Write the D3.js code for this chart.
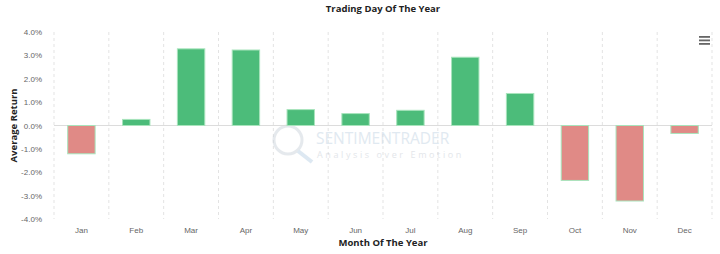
<!DOCTYPE html>
<html lang="en">
<head>
<meta charset="utf-8">
<title>Trading Day Of The Year</title>
<script src="https://cdn.jsdelivr.net/npm/d3@7"></script>
<style>
  body, html { margin:0; padding:0; background:#fff; }
  svg { display:block; font-family:"Open Sans", sans-serif; }
  .tick text { fill:#666; font-size:8px; }
</style>
</head>
<body>
<div id="chart"></div>
<script>
var months = ['Jan','Feb','Mar','Apr','May','Jun','Jul','Aug','Sep','Oct','Nov','Dec'];
var avgReturn = [-1.21, 0.26, 3.28, 3.23, 0.68, 0.51, 0.65, 2.92, 1.37, -2.35, -3.23, -0.34];
var yTicks = [-4, -3, -2, -1, 0, 1, 2, 3, 4];

var W = 720, H = 254;
var m = { left: 54, right: 8, top: 32, bottom: 35 };

var svg = d3.select('#chart').append('svg').attr('width', W).attr('height', H);

var x = d3.scaleBand().domain(months).range([m.left, W - m.right]).paddingInner(0.5).paddingOuter(0.25);
var y = d3.scaleLinear().domain([-4, 4]).range([H - m.bottom, m.top]);

// dashed vertical grid at category boundaries
var step = x.step();
var bounds = d3.range(months.length + 1).map(function(i){ return m.left + i * step; });
svg.append('g').selectAll('line').data(bounds).enter().append('line')
  .attr('x1', function(d){ return d; }).attr('x2', function(d){ return d; })
  .attr('y1', y(4)).attr('y2', y(-4))
  .attr('stroke', '#e3e3e3').attr('stroke-dasharray', '3,3');

// watermark
var wm = svg.append('g').attr('opacity', 0.5);
wm.append('circle').attr('cx', 288).attr('cy', 140).attr('r', 14)
  .attr('fill', 'none').attr('stroke', '#cdd5dd').attr('stroke-width', 3);
wm.append('line').attr('x1', 298).attr('y1', 151).attr('x2', 312).attr('y2', 162)
  .attr('stroke', '#bcd3e6').attr('stroke-width', 4);
wm.append('text').attr('x', 316).attr('y', 144).attr('font-size', 15.5).attr('fill', '#c3d4e4')
  .text('SENTIMENTRADER');
wm.append('text').attr('x', 317).attr('y', 158).attr('font-size', 9).attr('fill', '#c8ced6')
  .attr('letter-spacing', 2.6).text('Analysis over Emotion');

// zero line
svg.append('line').attr('x1', m.left).attr('x2', W - m.right)
  .attr('y1', y(0)).attr('y2', y(0)).attr('stroke', '#dcdcdc');

// bars
svg.append('g').selectAll('rect').data(avgReturn).enter().append('rect')
  .attr('x', function(d, i){ return x(months[i]); })
  .attr('width', x.bandwidth())
  .attr('y', function(d){ return y(Math.max(0, d)); })
  .attr('height', function(d){ return Math.abs(y(d) - y(0)); })
  .attr('fill', function(d){ return d >= 0 ? '#4cbc7a' : '#e08a86'; })
  .attr('stroke', '#a8e4bc').attr('stroke-width', 1);

// axes
var yAxis = svg.append('g').attr('transform', 'translate(' + (m.left - 9) + ',0)')
  .call(d3.axisLeft(y).tickValues(yTicks).tickSize(0).tickFormat(function(d){ return d.toFixed(1) + '%'; }));
yAxis.select('.domain').remove();

var xAxis = svg.append('g').attr('transform', 'translate(0,' + (H - m.bottom + 5) + ')')
  .call(d3.axisBottom(x).tickSize(0));
xAxis.select('.domain').remove();

// titles
svg.append('text').attr('x', 383).attr('y', 12).attr('text-anchor', 'middle')
  .attr('font-size', 9.5).attr('font-weight', 'bold').attr('fill', '#222')
  .text('Trading Day Of The Year');
svg.append('text').attr('x', 383).attr('y', 246).attr('text-anchor', 'middle')
  .attr('font-size', 9.5).attr('font-weight', 'bold').attr('fill', '#222')
  .text('Month Of The Year');
svg.append('text').attr('transform', 'translate(17,' + y(0) + ') rotate(-90)')
  .attr('text-anchor', 'middle').attr('font-size', 9.5).attr('font-weight', 'bold').attr('fill', '#222')
  .text('Average Return');

// menu icon
svg.append('g').selectAll('rect').data([0, 1, 2]).enter().append('rect')
  .attr('x', 699).attr('y', function(d){ return 36 + d * 3.5; })
  .attr('width', 11).attr('height', 1.8).attr('fill', '#666');
</script>
</body>
</html>
